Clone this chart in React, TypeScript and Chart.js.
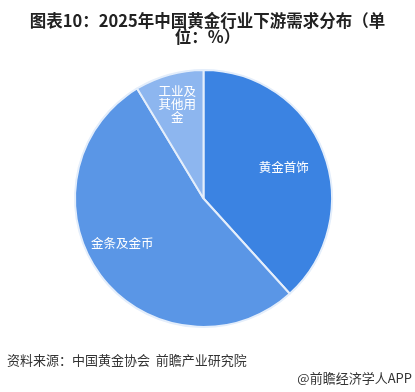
import React, { useEffect, useRef } from "react";
import { Chart, registerables } from "chart.js";

Chart.register(...registerables);

const titleLines = ["图表10：2025年中国黄金行业下游需求分布（单", "位：%）"];
const categories = ["黄金首饰", "金条及金币", "工业及其他用金"];
const labelLines = [["黄金首饰"], ["金条及金币"], ["工业及", "其他用", "金"]];
const values = [38.29, 53.07, 8.64];
const colors = ["#3b83e2", "#5a96e6", "#8db6ef"];
const labelRadius = [0.67, 0.72, 0.76];
const labelAngleShift = [0, 0.14, 0];
const sourceText = "资料来源：中国黄金协会  前瞻产业研究院";
const brandText = "@前瞻经济学人APP";

const FONT = '"Noto Sans CJK SC", "Noto Sans", sans-serif';

const decorPlugin = {
  id: "decor",
  afterDatasetsDraw(chart: any) {
    const ctx = chart.ctx;
    const meta = chart.getDatasetMeta(0);
    ctx.save();
    ctx.fillStyle = "#ffffff";
    ctx.font = `12.5px ${FONT}`;
    ctx.textAlign = "center";
    ctx.textBaseline = "middle";
    meta.data.forEach((arc: any, i: number) => {
      const p = arc.getProps(["x", "y", "startAngle", "endAngle", "outerRadius"], true);
      const mid = (p.startAngle + p.endAngle) / 2 + labelAngleShift[i];
      const r = p.outerRadius * labelRadius[i];
      const cx = p.x + Math.cos(mid) * r;
      const cy = p.y + Math.sin(mid) * r;
      const lines = labelLines[i];
      const lh = 13;
      lines.forEach((t, k) => {
        ctx.fillText(t, cx, cy + (k - (lines.length - 1) / 2) * lh);
      });
    });
    ctx.restore();
  },
  afterDraw(chart: any) {
    const ctx = chart.ctx;
    ctx.save();
    ctx.fillStyle = "#222222";
    ctx.font = `bold 16.5px ${FONT}`;
    ctx.textAlign = "center";
    ctx.textBaseline = "middle";
    ctx.fillText(titleLines[0], 207.5, 21);
    ctx.fillText(titleLines[1], 207.5, 37);
    ctx.fillStyle = "#333333";
    ctx.font = `13px ${FONT}`;
    ctx.textAlign = "left";
    ctx.fillText(sourceText, 7, 360);
    ctx.textAlign = "right";
    ctx.fillText(brandText, 412, 378);
    ctx.restore();
  },
};

export default function App() {
  const ref = useRef<HTMLCanvasElement | null>(null);
  useEffect(() => {
    if (!ref.current) return;
    const chart = new Chart(ref.current, {
      type: "pie",
      data: {
        labels: categories,
        datasets: [
          {
            data: values,
            backgroundColor: colors,
            borderColor: "#e4eefb",
            borderWidth: 2,
          },
        ],
      },
      options: {
        animation: false,
        responsive: false,
        layout: { padding: { top: 69, bottom: 64, left: 60, right: 68 } },
        plugins: {
          legend: { display: false },
          tooltip: { enabled: false },
          title: { display: false },
        },
      },
      plugins: [decorPlugin],
    });
    return () => chart.destroy();
  }, []);
  return (
    <div style={{ position: "fixed", left: 0, top: 0, width: 415, height: 392, background: "#fff" }}>
      <canvas ref={ref} width={415} height={392} style={{ width: 415, height: 392 }} />
    </div>
  );
}
